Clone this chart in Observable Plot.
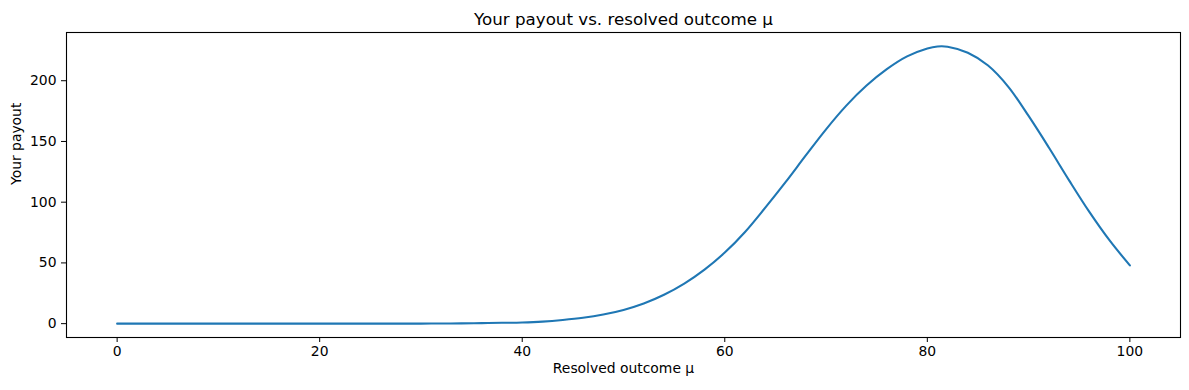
<!DOCTYPE html>
<html>
<head>
<meta charset="utf-8">
<script src="https://cdn.jsdelivr.net/npm/d3@7"></script>
<script src="https://cdn.jsdelivr.net/npm/@observablehq/plot@0.6"></script>
<style>
  html, body { margin: 0; padding: 0; background: #fff; }
  #chart svg { display: block; font-family: "DejaVu Sans", sans-serif; }
</style>
</head>
<body>
<div id="chart"></div>
<script>
// Resolved outcome μ (x) and payout (y)
const outcome = [0, 2, 4, 6, 8, 10, 12, 14, 16, 18, 20, 22, 24, 26, 28, 30,
  32, 34, 36, 38, 40, 42, 44, 46, 48, 50, 52, 54, 56, 58, 60, 62, 64, 66, 68,
  70, 72, 74, 76, 78, 80, 81, 82, 84, 86, 88, 90, 92, 94, 96, 98, 100];
const payout = [0, 0, 0, 0, 0, 0, 0, 0, 0, 0, 0, 0, 0, 0, 0, 0.05,
  0.1, 0.2, 0.4, 0.7, 1.0, 1.7, 3.0, 4.8, 7.5, 11.3, 16.6, 23.8, 33, 44.5, 58.5, 75.5, 95.5, 116.5, 138.5,
  160, 179.5, 196, 209.5, 220, 226.5, 228.2, 228, 223, 212.5, 195, 171, 145, 118, 92, 68.5, 48];

const xTicks = [0, 20, 40, 60, 80, 100];
const yTicks = [0, 50, 100, 150, 200];

const title = "Your payout vs. resolved outcome μ";
const xLabel = "Resolved outcome μ";
const yLabel = "Your payout";

const data = outcome.map((x, i) => ({x, y: payout[i]}));

const chart = Plot.plot({
  width: 1189,
  height: 390,
  marginLeft: 66,
  marginRight: 9,
  marginTop: 32,
  marginBottom: 53,
  style: {fontFamily: "DejaVu Sans, sans-serif", fontSize: "13.9px", color: "#000", background: "#fff"},
  x: {domain: [-5, 105]},
  y: {domain: [-11.4, 239.7]},
  marks: [
    Plot.axisX({ticks: xTicks, tickSize: 5, tickPadding: 4, label: null, fontSize: 13.9, tickFormat: d => String(d)}),
    Plot.axisY({ticks: yTicks, tickSize: 5, tickPadding: 5, label: null, fontSize: 13.9, tickFormat: d => String(d)}),
    Plot.line(data, {x: "x", y: "y", stroke: "#1f77b4", strokeWidth: 2.1, curve: "catmull-rom"}),
    Plot.frame({stroke: "#000", strokeWidth: 1.1}),
    Plot.text([title], {frameAnchor: "top", dy: -8, lineAnchor: "bottom", fontSize: 16.7, fill: "#000"}),
    Plot.text([xLabel], {frameAnchor: "bottom", dy: 26, lineAnchor: "top", fontSize: 13.9, fill: "#000"}),
    Plot.text([yLabel], {frameAnchor: "left", dx: -50, rotate: -90, fontSize: 13.9, fill: "#000"})
  ]
});
document.getElementById("chart").appendChild(chart);
</script>
</body>
</html>
